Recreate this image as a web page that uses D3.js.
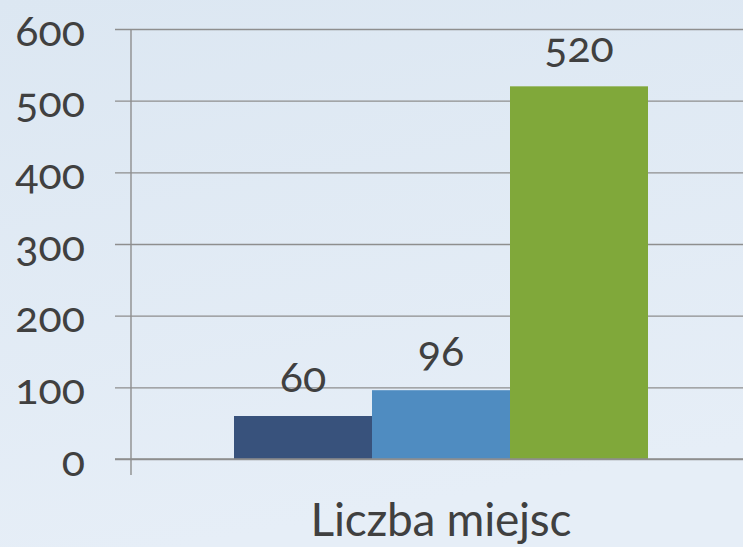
<!DOCTYPE html>
<html>
<head>
<meta charset="utf-8">
<script src="https://cdn.jsdelivr.net/npm/d3@7"></script>
<style>
  html, body { margin: 0; padding: 0; overflow: hidden; }
  svg { display: block; }
  text { font-family: "Lato", "Noto Sans", sans-serif; fill: #404040; font-variant-numeric: oldstyle-nums; font-feature-settings: "onum" 1; }
</style>
</head>
<body>
<svg id="chart" width="743" height="547"></svg>
<script>
const categories = ["Liczba miejsc"];
const series = ["Seria 1", "Seria 2", "Seria 3"];
const values = [60, 96, 520];
const colors = ["#38527c", "#4f8cc1", "#80a83a"];
const yTicks = [0, 100, 200, 300, 400, 500, 600];

(function () {
const W = 743, H = 547;
const svg = d3.select("#chart");

const defs = svg.append("defs");
const grad = defs.append("linearGradient").attr("id", "bg")
  .attr("x1", "0").attr("y1", "0").attr("x2", "0.25").attr("y2", "1");
grad.append("stop").attr("offset", "0").attr("stop-color", "#dce7f2");
grad.append("stop").attr("offset", "1").attr("stop-color", "#e6eef7");
svg.append("rect").attr("width", W).attr("height", H).attr("fill", "url(#bg)");

const mLeft = 131, mRight = 751, mTop = 29, mBottom = 459;
const y = d3.scaleLinear().domain([0, 600]).range([mBottom, mTop]);
const x0 = d3.scaleBand().domain(categories).range([mLeft, mRight]).paddingInner(0).paddingOuter(0.2488);
const x1 = d3.scaleBand().domain(series).range([0, x0.bandwidth()]).padding(0);

const gridColor = "#8e8e8e";

const yAxis = d3.axisLeft(y).tickValues(yTicks).tickSize(-(W - mLeft + 20)).tickPadding(0).tickFormat(d3.format("d"));
const gy = svg.append("g").attr("transform", `translate(${mLeft},0)`).call(yAxis);
gy.select(".domain").remove();
gy.selectAll(".tick line").attr("stroke", gridColor).attr("stroke-width", 1.4).attr("x1", -16);
gy.selectAll(".tick text")
  .attr("x", -46).attr("dy", null).attr("y", 16)
  .attr("dominant-baseline", "alphabetic")
  .attr("font-size", 43).attr("fill", "#404040")
  .style("font-family", '"Lato", "Noto Sans", sans-serif');

const g = svg.append("g");
const data = series.map((s, i) => ({ cat: categories[0], s, v: values[i], c: colors[i] }));
g.selectAll("rect.bar").data(data).join("rect")
  .attr("class", "bar")
  .attr("x", d => x0(d.cat) + x1(d.s))
  .attr("width", x1.bandwidth())
  .attr("y", d => y(d.v))
  .attr("height", d => y(0) - y(d.v))
  .attr("fill", d => d.c);

svg.append("line").attr("x1", mLeft - 16).attr("x2", W).attr("y1", y(0)).attr("y2", y(0))
  .attr("stroke", gridColor).attr("stroke-width", 1.4);
svg.append("line").attr("x1", mLeft).attr("x2", mLeft).attr("y1", y(600)).attr("y2", y(0) + 16)
  .attr("stroke", gridColor).attr("stroke-width", 1.4);

g.selectAll("text.val").data(data).join("text")
  .attr("class", "val")
  .attr("x", d => x0(d.cat) + x1(d.s) + x1.bandwidth() / 2)
  .attr("y", d => y(d.v) - 24)
  .attr("text-anchor", "middle")
  .attr("font-size", 43)
  .text(d => d.v);

svg.selectAll("text.cat").data(categories).join("text")
  .attr("class", "cat")
  .attr("x", d => x0(d) + x0.bandwidth() / 2)
  .attr("y", 536)
  .attr("text-anchor", "middle")
  .attr("font-size", 46)
  .attr("textLength", 261)
  .attr("lengthAdjust", "spacing")
  .text(d => d);
})();
</script>
</body>
</html>
